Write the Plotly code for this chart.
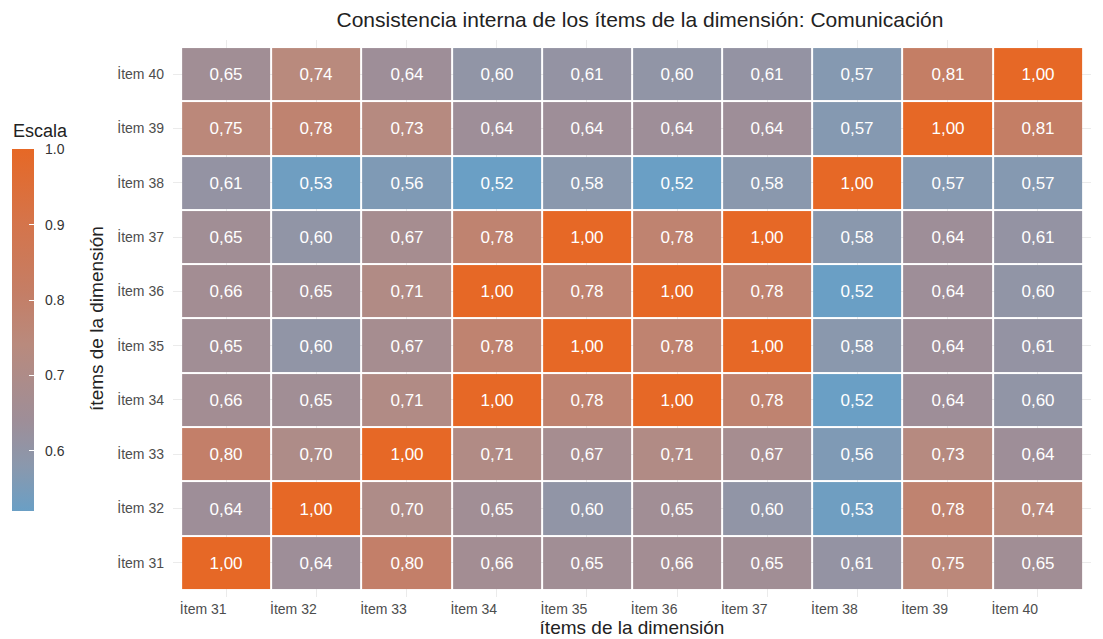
import plotly.graph_objects as go

items = ["İtem 31", "İtem 32", "İtem 33", "İtem 34", "İtem 35",
         "İtem 36", "İtem 37", "İtem 38", "İtem 39", "İtem 40"]

# rows from İtem 31 (bottom) to İtem 40 (top); columns İtem 31..İtem 40
row_31 = [1.00, 0.64, 0.80, 0.66, 0.65, 0.66, 0.65, 0.61, 0.75, 0.65]
row_32 = [0.64, 1.00, 0.70, 0.65, 0.60, 0.65, 0.60, 0.53, 0.78, 0.74]
row_33 = [0.80, 0.70, 1.00, 0.71, 0.67, 0.71, 0.67, 0.56, 0.73, 0.64]
row_34 = [0.66, 0.65, 0.71, 1.00, 0.78, 1.00, 0.78, 0.52, 0.64, 0.60]
row_35 = [0.65, 0.60, 0.67, 0.78, 1.00, 0.78, 1.00, 0.58, 0.64, 0.61]
row_36 = [0.66, 0.65, 0.71, 1.00, 0.78, 1.00, 0.78, 0.52, 0.64, 0.60]
row_37 = [0.65, 0.60, 0.67, 0.78, 1.00, 0.78, 1.00, 0.58, 0.64, 0.61]
row_38 = [0.61, 0.53, 0.56, 0.52, 0.58, 0.52, 0.58, 1.00, 0.57, 0.57]
row_39 = [0.75, 0.78, 0.73, 0.64, 0.64, 0.64, 0.64, 0.57, 1.00, 0.81]
row_40 = [0.65, 0.74, 0.64, 0.60, 0.61, 0.60, 0.61, 0.57, 0.81, 1.00]

z = [row_31, row_32, row_33, row_34, row_35, row_36, row_37, row_38, row_39, row_40]
text = [[f"{v:.2f}".replace(".", ",") for v in r] for r in z]

scale_ticks = [0.6, 0.7, 0.8, 0.9, 1.0]

zmin, zmax = 0.52, 1.0
colorscale = [
    [0.0, "#6a9fc5"],
    [0.125, "#8a98ad"],
    [0.25, "#9e8e98"],
    [0.46, "#b98a7d"],
    [0.60, "#c47e66"],
    [0.80, "#d5744a"],
    [1.0, "#e66826"],
]

font_family = "Liberation Sans, Arial, sans-serif"

W, H = 1095, 631
ML, MR, MT, MB = 165, 12, 32, 42
PW, PH = W - ML - MR, H - MT - MB

fig = go.Figure(go.Heatmap(
    z=z, x=items, y=items,
    text=text, texttemplate="%{text}",
    textfont=dict(color="white", size=17, family=font_family),
    colorscale=colorscale, zmin=zmin, zmax=zmax,
    xgap=2, ygap=2,
    colorbar=dict(
        xref="container", yref="container",
        x=4 / W, xanchor="left",
        y=(H - 160) / H, yanchor="top",
        lenmode="pixels", len=362, thickness=22,
        outlinewidth=0, xpad=0, ypad=0,
        tickvals=scale_ticks,
        ticktext=["\u00a0\u00a0" + f"{t:.1f}" for t in scale_ticks],
        ticks="inside", ticklen=5, tickcolor="white",
        tickfont=dict(size=14, color="#333"),
    ),
))

fig.add_annotation(
    text="Escala", xref="paper", yref="paper",
    x=-(ML - 3) / PW, xanchor="left",
    y=1 - (123 - MT) / PH, yanchor="middle",
    showarrow=False, font=dict(size=18, color="#222", family=font_family),
)

fig.update_layout(
    width=W, height=H,
    plot_bgcolor="white", paper_bgcolor="white",
    font=dict(family=font_family),
    title=dict(text="Consistencia interna de los ítems de la dimensión: Comunicación",
               x=632 / W, xanchor="center", y=1 - 12 / H, yanchor="middle",
               font=dict(size=21, color="#222")),
    margin=dict(l=ML, r=MR, t=MT, b=MB),
    xaxis=dict(
        title=dict(text="ítems de la dimensión", font=dict(size=19, color="#222"), standoff=2),
        range=[-0.59, 9.59], showgrid=True, gridcolor="#ebebeb", zeroline=False,
        tickfont=dict(size=14, color="#4d4d4d"), ticks="", showline=False,
        ticklabelshift=-23, ticklabelstandoff=2,
        automargin=False,
    ),
    yaxis=dict(
        title=dict(text="ítems de la dimensión", font=dict(size=19, color="#222"), standoff=8),
        range=[-0.63, 9.63], showgrid=True, gridcolor="#ebebeb", zeroline=False,
        tickfont=dict(size=14, color="#4d4d4d"), ticks="", showline=False,
        ticklabelstandoff=8,
        automargin=False,
    ),
)

fig.write_html("out.html")
